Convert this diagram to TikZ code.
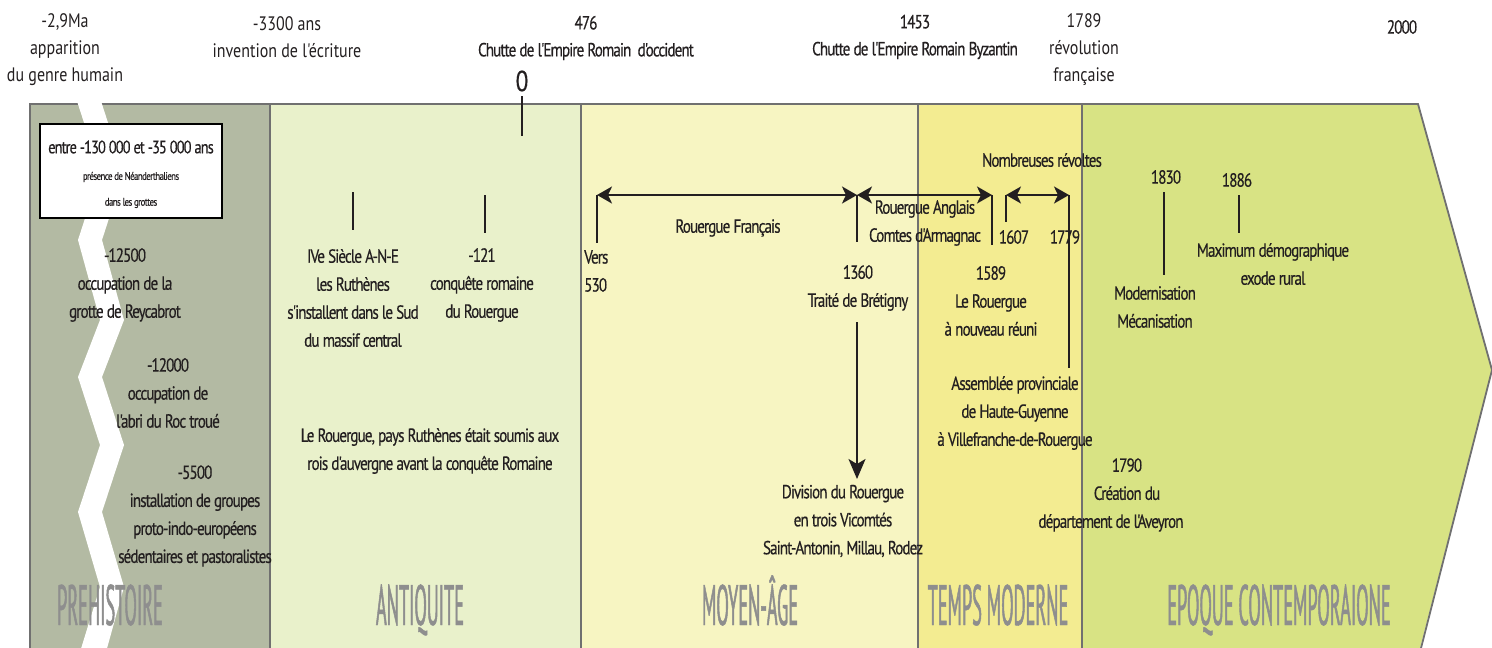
\documentclass[tikz,border=0pt]{standalone}
\usepackage{fontspec}
\usetikzlibrary{arrows.meta}
\newfontfamily\evf{PT Sans}[FakeStretch=0.8, LetterSpace=-5, FakeBold=0.4]
\newfontfamily\topf{PT Sans}[FakeStretch=0.82]
\newfontfamily\secf{PT Sans}[FakeStretch=0.32, FakeBold=0.8]
\definecolor{cPre}{HTML}{B3BAA3}
\definecolor{cAnt}{HTML}{E9F1CB}
\definecolor{cMoy}{HTML}{F7F5C2}
\definecolor{cMod}{HTML}{F3EC91}
\definecolor{cCon}{HTML}{D8E384}
\definecolor{cLine}{HTML}{707070}
\definecolor{cSec}{HTML}{8E8E8E}
\definecolor{cTxt}{HTML}{231F20}
\begin{document}
\begin{tikzpicture}[x=1pt,y=-1pt,
  ev/.style={font=\evf\fontsize{19}{28}\selectfont, align=center, inner sep=0pt, text=cTxt},
  toplab/.style={font=\topf\fontsize{19.5}{27}\selectfont, align=center, inner sep=0pt, text=cTxt},
  seclab/.style={font=\secf\fontsize{57}{60}\selectfont, text=cSec, inner sep=0pt, anchor=base},
  smalltxt/.style={font=\evf\fontsize{11}{13}\selectfont, inner sep=0pt, text=cTxt},
  ticker/.style={line width=1.8pt, cTxt},
  spanarrow/.style={line width=2.2pt, cTxt, {Stealth[length=15pt,width=17pt,inset=4pt]}-{Stealth[length=15pt,width=17pt,inset=4pt]}},
  downarrow/.style={line width=2pt, cTxt, -{Stealth[length=20pt,width=17pt,inset=5pt]}},
  divider/.style={line width=1.6pt, cLine},
  outline/.style={line width=1.8pt, cLine}
]
\useasboundingbox (0,0) rectangle (1492,648);
\clip (0,0) rectangle (1492,648);

% --- period bands ---
\fill[cPre] (30,104) rectangle (270,648);
\fill[cAnt] (270,104) rectangle (581,648);
\fill[cMoy] (581,104) rectangle (918,648);
\fill[cMod] (918,104) rectangle (1082,648);
\fill[cCon] (1082,104) -- (1418,104) -- (1492,370) -- (1420,648) -- (1082,648) -- cycle;

\draw[divider] (270,104) -- (270,648);
\draw[divider] (581,104) -- (581,648);
\draw[divider] (918,104) -- (918,648);
\draw[divider] (1082,104) -- (1082,648);
\draw[outline] (30,652) -- (30,104) -- (1418,104) -- (1492,370) -- (1420,652);

% --- white zigzag break ---
\fill[white] (76,98) -- (100,98) -- (124,172) -- (102,240) -- (124,320) -- (102,377)
  -- (124,445) -- (102,512) -- (124,587) -- (106,652) -- (80,652) -- (100,587)
  -- (78,512) -- (100,445) -- (78,377) -- (100,320) -- (78,240) -- (100,172) -- cycle;

% --- top labels ---
\node[toplab] (t29) at (65,50) {-2,9Ma\\apparition\\du genre humain};
\node[toplab] (t3300) at (287,37) {-3300 ans\\invention de l'écriture};
\node[ev, font=\evf\fontsize{19}{27}\selectfont] (t476) at (586,38) {476\\Chutte de l'Empire Romain\ \ d'occident};
\node[ev, font=\evf\fontsize{29}{30}\selectfont] (t0) at (522,81) {0};
\node[ev, font=\evf\fontsize{19}{27}\selectfont] (t1453) at (915,37) {1453\\Chutte de l'Empire Romain Byzantin};
\node[toplab] (t1789) at (1084,50) {1789\\révolution\\française};
\node[ev] (t2000) at (1402,27) {2000};
\coordinate (k0a) at (522,96);
\coordinate (k0b) at (522,136);
\draw[ticker] (k0a) -- (k0b);

% --- box ---
\node[draw=black, line width=2pt, fill=white, minimum width=182pt, minimum height=94pt, inner sep=0pt] (box) at (131,171) {};
\node[ev, font=\evf\fontsize{18}{20}\selectfont] (bx1) at (131,147) {entre -130 000 et -35 000 ans};
\node[smalltxt] (bx2) at (131,177) {présence de Néanderthaliens};
\node[smalltxt] (bx3) at (131,203) {dans les grottes};

% --- prehistory events ---
\node[ev] (e12500) at (125,285) {-12500\\occupation de la\\grotte de Reycabrot};
\node[ev] (e12000) at (168,393) {-12000\\occupation de\\l'abri du Roc troué};
\node[ev] (e5500) at (195,516) {-5500\\installation de groupes\\proto-indo-européens\\sédentaires et pastoralistes};

% --- antiquity ---
\node[ev] (eIV) at (353,298) {IVe Siècle A-N-E\\les Ruthènes\\s'installent dans le Sud\\du massif central};
\node[ev] (e121) at (482,285) {-121\\conquête romaine\\du Rouergue};
\node[ev] (eRut) at (430,451) {Le Rouergue, pays Ruthènes était soumis aux\\rois d'auvergne avant la conquête Romaine};
\coordinate (kIVa) at (353,192);
\coordinate (kIVb) at (353,230);
\draw[ticker] (kIVa) -- (kIVb);
\coordinate (k121a) at (485,195);
\coordinate (k121b) at (485,233);
\draw[ticker] (k121a) -- (k121b);

% --- middle ages / modern ---
\node[ev, align=left, anchor=west] (e530) at (584,271) {Vers\\530};
\node[ev] (eFr) at (728,228) {Rouergue Français};
\node[ev] (eAng) at (925,223) {Rouergue Anglais\\Comtes d'Armagnac};
\node[ev] (eRev) at (1042,160) {Nombreuses révoltes};
\node[ev] (e1607) at (1014,237) {1607};
\node[ev] (e1779) at (1065,237) {1779};
\node[ev] (e1360) at (858,288) {1360\\Traité de Brétigny};
\node[ev] (eDiv) at (843,521) {Division du Rouergue\\en trois Vicomtés\\Saint-Antonin, Millau, Rodez};
\node[ev] (e1589) at (991,301) {1589\\Le Rouergue\\à nouveau réuni};
\node[ev] (eAss) at (1015,413) {Assemblée provinciale\\de Haute-Guyenne\\à Villefranche-de-Rouergue};

\coordinate (a530) at (597,195);
\coordinate (a1360) at (857,195);
\coordinate (a1589) at (992,195);
\coordinate (a1607) at (1006,195);
\coordinate (a1779) at (1069,195);
\coordinate (b530) at (597,243);
\coordinate (b1360) at (857,242);
\coordinate (b1589) at (992,245);
\coordinate (b1607) at (1006,222);
\coordinate (b1779) at (1069,368);
\draw[ticker] (a530) -- (b530);
\draw[ticker] (a1360) -- (b1360);
\draw[ticker] (a1589) -- (b1589);
\draw[ticker] (a1607) -- (b1607);
\draw[ticker] (a1779) -- (b1779);
\draw[spanarrow] (a530) -- (a1360);
\draw[spanarrow] (a1360) -- (a1589);
\draw[spanarrow] (a1607) -- (a1779);
\coordinate (d1) at (857,322);
\coordinate (d2) at (857,479);
\draw[downarrow] (d1) -- (d2);

% --- contemporary ---
\node[ev] (e1830) at (1166,177) {1830};
\node[ev] (e1886) at (1237,180) {1886};
\node[ev] (eMax) at (1273,264) {Maximum démographique\\exode rural};
\node[ev] (eMod) at (1155,307) {Modernisation\\Mécanisation};
\node[ev] (e1790) at (1111,495) {\hspace*{32pt}1790\\\hspace*{32pt}Création du\\département de l'Aveyron};
\coordinate (k1830a) at (1164,192);
\coordinate (k1830b) at (1164,275);
\draw[ticker] (k1830a) -- (k1830b);
\coordinate (k1886a) at (1239,195);
\coordinate (k1886b) at (1239,233);
\draw[ticker] (k1886a) -- (k1886b);

% --- period names ---
\node[seclab] (sPre) at (110,625) {PREHISTOIRE};
\node[seclab] (sAnt) at (420,625) {ANTIQUITE};
\node[seclab] (sMoy) at (750,625) {MOYEN-ÂGE};
\node[seclab] (sMod) at (998,625) {TEMPS MODERNE};
\node[seclab] (sCon) at (1279,625) {EPOQUE CONTEMPORAIONE};
\end{tikzpicture}
\end{document}
